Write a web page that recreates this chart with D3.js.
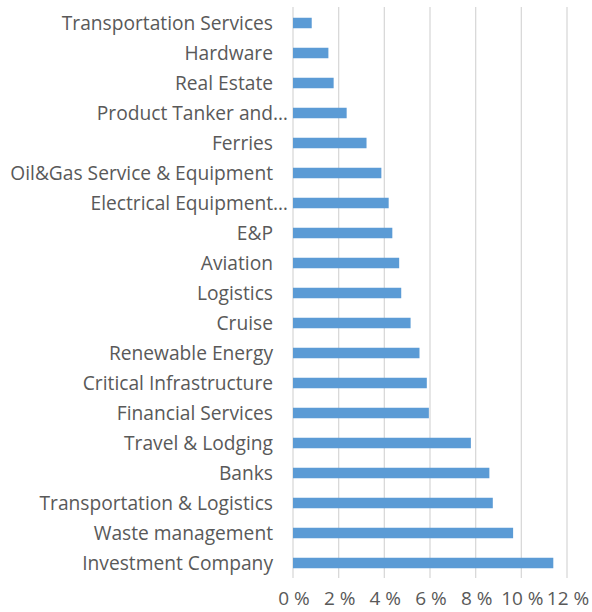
<!DOCTYPE html>
<html><head><meta charset="utf-8">
<script src="https://cdn.jsdelivr.net/npm/d3@7"></script>
<style>body{margin:0;background:#fff}svg{display:block}</style>
</head><body>
<script>
const categories = ["Transportation Services","Hardware","Real Estate","Product Tanker and…","Ferries","Oil&Gas Service & Equipment","Electrical Equipment…","E&P","Aviation","Logistics","Cruise","Renewable Energy","Critical Infrastructure","Financial Services","Travel & Lodging","Banks","Transportation & Logistics","Waste management","Investment Company"];
const values = [0.82,1.55,1.78,2.35,3.22,3.87,4.19,4.35,4.65,4.74,5.15,5.54,5.86,5.95,7.79,8.6,8.75,9.64,11.4];
const ticks = [0,2,4,6,8,10,12];

const W=592,H=612;
const svg=d3.select("body").append("svg").attr("width",W).attr("height",H);
const x=d3.scaleLinear().domain([0,12]).range([293,567]);
const y=d3.scaleBand().domain(categories).range([8,578]).paddingInner(0.65).paddingOuter(0.325);
const font="'Open Sans', sans-serif";
svg.append("g").selectAll("line").data(ticks).join("line")
 .attr("x1",d=>x(d)).attr("x2",d=>x(d)).attr("y1",7).attr("y2",578)
 .attr("stroke","#d9d9d9").attr("stroke-width",1.3);
svg.append("g").selectAll("rect").data(values).join("rect")
 .attr("x",x(0)).attr("y",(d,i)=>y(categories[i]))
 .attr("width",d=>x(d)-x(0)).attr("height",y.bandwidth())
 .attr("fill","#5b9bd5");
const lab=svg.append("g").attr("font-family",font).attr("font-size",19.2).attr("fill","#595959");
categories.forEach(c=>{
  const trunc=c.endsWith("…");
  lab.append("text").attr("x",trunc?288:273).attr("y",y(c)+y.bandwidth()/2).attr("dy","0.35em")
   .attr("text-anchor","end").text(c);
});
svg.append("g").attr("font-family",font).attr("font-size",19).attr("fill","#595959")
 .selectAll("text").data(ticks).join("text")
 .attr("x",d=>x(d)+1).attr("y",605).attr("text-anchor","middle").text(d=>d+" %");
</script>
</body></html>
